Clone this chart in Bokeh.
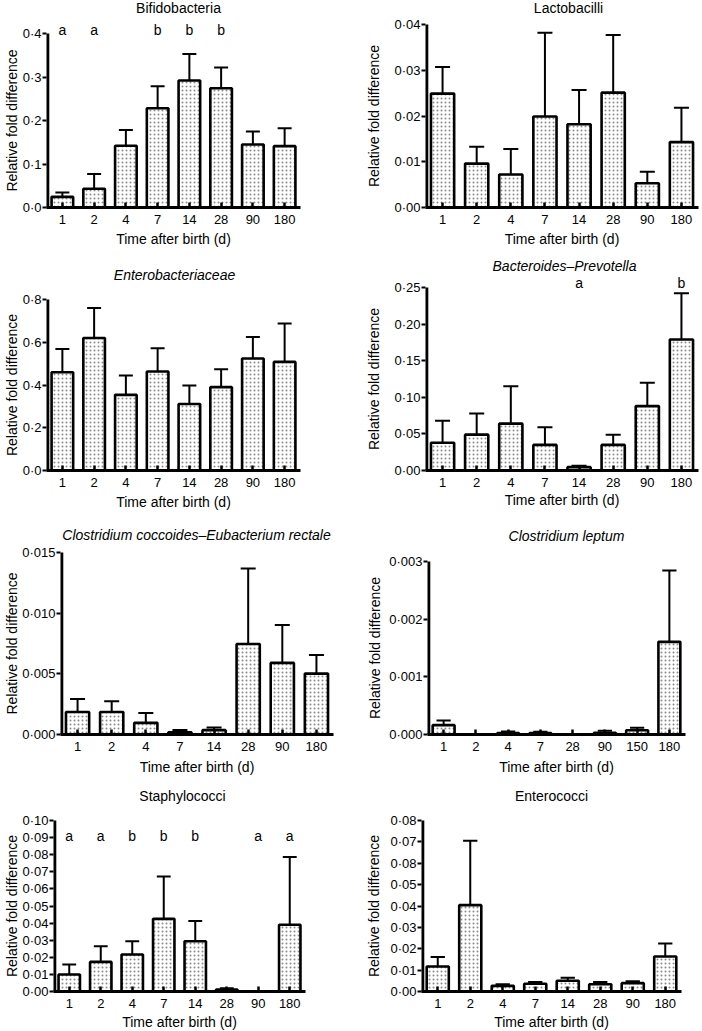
from bokeh.plotting import figure
from bokeh.models import Range1d, FixedTicker, Label, ColumnDataSource, Title, LinearAxis
from bokeh.layouts import column, row
from bokeh.embed import file_html
from bokeh.resources import INLINE

# ---------------- data ----------------
days_std = ["1", "2", "4", "7", "14", "28", "90", "180"]
days_lep = ["1", "2", "4", "7", "28", "90", "150", "180"]

bifido_mean = [0.0245, 0.043, 0.142, 0.228, 0.292, 0.274, 0.145, 0.141]
bifido_sem = [0.010, 0.034, 0.036, 0.051, 0.061, 0.048, 0.030, 0.041]
bifido_letters = ["a", "a", "", "b", "b", "b", "", ""]
bifido_ticks = [0.0, 0.1, 0.2, 0.3, 0.4]
bifido_ticklabels = ["0·0", "0·1", "0·2", "0·3", "0·4"]

lacto_mean = [0.0249, 0.0096, 0.0072, 0.0199, 0.0182, 0.0251, 0.0053, 0.0143]
lacto_sem = [0.0058, 0.0037, 0.0056, 0.0183, 0.0075, 0.0126, 0.0025, 0.0075]
lacto_ticks = [0.0, 0.01, 0.02, 0.03, 0.04]
lacto_ticklabels = ["0·00", "0·01", "0·02", "0·03", "0·04"]

entbac_mean = [0.460, 0.620, 0.354, 0.463, 0.311, 0.390, 0.524, 0.508]
entbac_sem = [0.109, 0.140, 0.090, 0.109, 0.087, 0.084, 0.100, 0.180]
entbac_ticks = [0.0, 0.2, 0.4, 0.6, 0.8]
entbac_ticklabels = ["0·0", "0·2", "0·4", "0·6", "0·8"]

bactprev_mean = [0.038, 0.049, 0.064, 0.035, 0.0046, 0.035, 0.088, 0.179]
bactprev_sem = [0.030, 0.029, 0.051, 0.024, 0.0018, 0.014, 0.032, 0.063]
bactprev_letters = ["", "", "", "", "a", "", "", "b"]
bactprev_ticks = [0.0, 0.05, 0.10, 0.15, 0.20, 0.25]
bactprev_ticklabels = ["0·00", "0·05", "0·10", "0·15", "0·20", "0·25"]

ccoc_mean = [0.00186, 0.00186, 0.00096, 0.00019, 0.00036, 0.00746, 0.0059, 0.00502]
ccoc_sem = [0.00107, 0.00088, 0.00082, 0.00019, 0.00022, 0.00622, 0.00312, 0.00153]
ccoc_ticks = [0.0, 0.005, 0.010, 0.015]
ccoc_ticklabels = ["0·000", "0·005", "0·010", "0·015"]

clep_mean = [0.000162, 0.0, 0.000023, 0.000023, 0.0, 0.00003, 0.000075, 0.001607]
clep_sem = [0.000082, 0.0, 0.000027, 0.000023, 0.0, 0.000034, 0.000041, 0.001236]
clep_ticks = [0.0, 0.001, 0.002, 0.003]
clep_ticklabels = ["0·000", "0·001", "0·002", "0·003"]

staph_mean = [0.0099, 0.0173, 0.0216, 0.0425, 0.0294, 0.0012, 0.0, 0.039]
staph_sem = [0.0059, 0.0092, 0.0078, 0.0247, 0.0119, 0.0007, 0.0, 0.0396]
staph_letters = ["a", "a", "b", "b", "b", "", "a", "a"]
staph_ticks = [0.0, 0.01, 0.02, 0.03, 0.04, 0.05, 0.06, 0.07, 0.08, 0.09, 0.10]
staph_ticklabels = ["0·00", "0·01", "0·02", "0·03", "0·04", "0·05",
                    "0·06", "0·07", "0·08", "0·09", "0·10"]

entcoc_mean = [0.0117, 0.0404, 0.00265, 0.0036, 0.005, 0.0034, 0.0039, 0.0164]
entcoc_sem = [0.0044, 0.0301, 0.00075, 0.0009, 0.0014, 0.0011, 0.0009, 0.0061]
entcoc_ticks = [0.0, 0.01, 0.02, 0.03, 0.04, 0.05, 0.06, 0.07, 0.08]
entcoc_ticklabels = ["0·00", "0·01", "0·02", "0·03", "0·04", "0·05",
                     "0·08", "0·07", "0·08"]

# ---------------- style / layout ----------------
FONT = "Liberation Sans"
XLABEL = "Time after birth (d)"
YLABEL = "Relative fold difference"

# w,h figure size; l,r,b borders; T: px from figure top to the top tick (frame
# starts at figure top, titles live inside it); tdx/tc: title centre (px from axis,
# px from figure top); s2: y label standoff; ldy: letters offset from top tick;
# xs/xo: x label standoff/offset
LAYOUT = {
    "bifido":   dict(w=351, h=256, l=40, r=51, b=49, T=33, tdx=132, tc=7,  s2=0,  ldy=4,   xs=4, xo=14),
    "lacto":    dict(w=350, h=256, l=74, r=3,  b=49, T=24, tdx=143, tc=7,  s2=10, ldy=0,   xs=4, xo=-4),
    "entbac":   dict(w=351, h=262, l=40, r=51, b=48, T=43, tdx=128, tc=18, s2=0,  ldy=0,   xs=4, xo=16),
    "bactprev": dict(w=350, h=262, l=74, r=3,  b=48, T=31, tdx=139, tc=9,  s2=10, ldy=5,   xs=0, xo=-4),
    "ccoc":     dict(w=351, h=263, l=57, r=18, b=47, T=34, tdx=136, tc=16, s2=0,  ldy=0,   xs=6, xo=-8),
    "clep":     dict(w=350, h=263, l=76, r=16, b=47, T=43, tdx=139, tc=17, s2=4,  ldy=0,   xs=6, xo=4),
    "staph":    dict(w=351, h=250, l=45, r=46, b=40, T=39, tdx=129, tc=14, s2=0,  ldy=-15, xs=2, xo=11),
    "entcoc":   dict(w=350, h=250, l=70, r=20, b=40, T=39, tdx=130, tc=14, s2=6,  ldy=0,   xs=2, xo=10),
}


def panel(key, title, italic, cats, means, sems, ticks, ticklabels, letters=None):
    L = LAYOUT[key]
    n = len(cats)
    xs = list(range(1, n + 1))
    xr = Range1d(0.5, n + 0.5)
    fh = L["h"] - L["b"]                       # frame height (no top border)
    span = ticks[-1] - ticks[0]
    y_top = ticks[0] + span * fh / (fh - L["T"])
    yr = Range1d(ticks[0], y_top)
    p = figure(width=L["w"], height=L["h"], x_range=xr, y_range=yr,
               output_backend="svg", toolbar_location=None, tools="",
               min_border_left=L["l"], min_border_right=L["r"],
               min_border_top=0, min_border_bottom=L["b"],
               background_fill_color="white", border_fill_color="white")
    p.outline_line_color = None
    p.xgrid.visible = False
    p.ygrid.visible = False

    src = ColumnDataSource(dict(
        x=xs, top=means,
        etop=[m + s for m, s in zip(means, sems)],
        cl=[x - 0.22 for x in xs], cr=[x + 0.22 for x in xs]))
    p.segment(x0="x", y0="top", x1="x", y1="etop", source=src,
              line_color="black", line_width=2)
    p.segment(x0="cl", y0="etop", x1="cr", y1="etop", source=src,
              line_color="black", line_width=2)
    p.vbar(x="x", top="top", bottom=0, width=0.68, source=src,
           fill_color="white", line_color="black", line_width=2.6,
           hatch_pattern="dot", hatch_scale=4, hatch_weight=1,
           hatch_color="#6e6e6e", hatch_alpha=0.8)
    # y axis line, stopping at the top tick
    p.segment(x0=[xr.start], y0=[ticks[0]], x1=[xr.start], y1=[ticks[-1]],
              line_color="black", line_width=5.6)

    # x axis
    xa = p.xaxis[0]
    xa.ticker = FixedTicker(ticks=xs)
    xa.major_label_overrides = {x: c for x, c in zip(xs, cats)}
    xa.minor_tick_line_color = None
    xa.major_tick_in = 5
    xa.major_tick_out = 0
    xa.major_tick_line_width = 2.5
    xa.axis_line_width = 2.8
    xa.major_label_standoff = 7
    xa.major_label_text_font = FONT
    xa.major_label_text_font_size = "13px"
    xa.major_label_text_color = "black"

    # y axis (ticks + tick labels)
    ya = p.yaxis[0]
    ya.ticker = FixedTicker(ticks=ticks)
    ya.major_label_overrides = {t: s for t, s in zip(ticks, ticklabels)}
    ya.minor_tick_line_color = None
    ya.major_tick_in = 0
    ya.major_tick_out = 4
    ya.major_tick_line_width = 2
    ya.axis_line_color = None
    ya.major_label_standoff = 1
    ya.major_label_text_font = FONT
    ya.major_label_text_font_size = "13px"
    ya.major_label_text_color = "black"

    # y label: outer axis carrying one label centred on the tick span
    mid = (ticks[0] + ticks[-1]) / 2
    yl = LinearAxis(ticker=FixedTicker(ticks=[mid]), major_label_overrides={mid: YLABEL},
                    major_label_orientation="parallel", axis_line_color=None,
                    major_tick_line_color=None, minor_tick_line_color=None,
                    major_tick_in=0, major_tick_out=0, major_label_standoff=L["s2"],
                    major_label_text_font=FONT, major_label_text_font_size="14px",
                    major_label_text_color="black")
    p.add_layout(yl, "left")

    # title inside the (extended) frame
    style = "italic" if italic else "normal"
    p.add_layout(Label(x=xr.start, y=ticks[-1], x_offset=L["tdx"], y_offset=L["T"] - L["tc"],
                       text=title, text_align="center", text_baseline="middle",
                       text_font=FONT, text_font_size="14px", text_font_style=style,
                       text_color="black"))

    # x label
    p.add_layout(Title(text=XLABEL, align="center", vertical_align="bottom",
                       offset=L["xo"], standoff=L["xs"], text_font=FONT,
                       text_font_size="14px", text_font_style="normal",
                       text_color="black"), "below")

    if letters:
        for x, s in zip(xs, letters):
            if s:
                p.add_layout(Label(x=x, y=ticks[-1], y_offset=L["ldy"], text=s,
                                   text_align="center", text_baseline="middle",
                                   text_font=FONT, text_font_size="14px",
                                   text_color="black"))
    return p


p1 = panel("bifido", "Bifidobacteria", False, days_std, bifido_mean, bifido_sem,
           bifido_ticks, bifido_ticklabels, bifido_letters)
p2 = panel("lacto", "Lactobacilli", False, days_std, lacto_mean, lacto_sem,
           lacto_ticks, lacto_ticklabels)
p3 = panel("entbac", "Enterobacteriaceae", True, days_std, entbac_mean, entbac_sem,
           entbac_ticks, entbac_ticklabels)
p4 = panel("bactprev", "Bacteroides–Prevotella", True, days_std, bactprev_mean, bactprev_sem,
           bactprev_ticks, bactprev_ticklabels, bactprev_letters)
p5 = panel("ccoc", "Clostridium coccoides–Eubacterium rectale", True, days_std, ccoc_mean,
           ccoc_sem, ccoc_ticks, ccoc_ticklabels)
p6 = panel("clep", "Clostridium leptum", True, days_lep, clep_mean, clep_sem,
           clep_ticks, clep_ticklabels)
p7 = panel("staph", "Staphylococci", False, days_std, staph_mean, staph_sem,
           staph_ticks, staph_ticklabels, staph_letters)
p8 = panel("entcoc", "Enterococci", False, days_std, entcoc_mean, entcoc_sem,
           entcoc_ticks, entcoc_ticklabels)

layout = column(row(p1, p2, spacing=0), row(p3, p4, spacing=0),
                row(p5, p6, spacing=0), row(p7, p8, spacing=0), spacing=0)

open("out.html", "w").write(file_html(layout, INLINE))
